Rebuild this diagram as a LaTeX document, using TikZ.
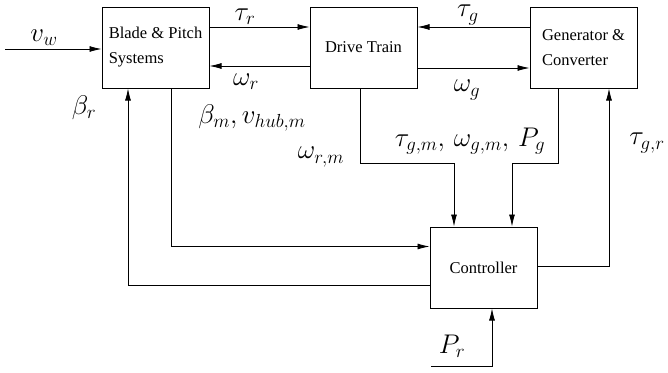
\RequirePackage{fix-cm}
\documentclass[tikz,border=0pt]{standalone}
\usepackage{amsmath}
\usepackage{fontspec}
\setmainfont{Liberation Serif}
\newfontfamily\blkfont{Liberation Serif}
\usetikzlibrary{arrows.meta}
\tikzset{
  blk/.style={draw,line width=1pt,minimum width=107pt,minimum height=81pt,inner sep=0pt,align=left,font=\blkfont\fontsize{16.5}{25}\selectfont},
  sig/.style={font=\fontsize{27}{30}\selectfont,inner sep=0pt},
  wire/.style={line width=0.8pt},
  arr/.style={wire,-{Latex[length=12pt,width=6pt]}}
}

\begin{document}
\begin{tikzpicture}[x=1pt,y=-1pt]
\useasboundingbox (0,0) rectangle (668,372);
% blocks
\node[blk] (blade) at (155.5,47.5) {Blade \& Pitch\\Systems};
\node[blk] (drive) at (363.5,47.5) {Drive Train};
\node[blk] (gen) at (583.5,47.5) {Generator \&\\Converter};
\node[blk] (ctrl) at (483.5,267.5) {Controller};
% external inputs
\coordinate (wind) at (5,49);
\coordinate (pref) at (431,366);
\draw[arr] (wind) -- (wind -| blade.west);
\draw[arr] (pref) -| ([xshift=8.5pt]ctrl.south);
% torques and speeds
\draw[arr] ([yshift=20.5pt]blade.east) -- ([yshift=20.5pt]drive.west);
\draw[arr] ([yshift=-18.5pt]drive.west) -- ([yshift=-18.5pt]blade.east);
\draw[arr] ([yshift=20.5pt]gen.west) -- ([yshift=20.5pt]drive.east);
\draw[arr] ([yshift=-20.5pt]drive.east) -- ([yshift=-20.5pt]gen.west);
% measurements to controller
\draw[arr] ([xshift=15.5pt]blade.south) |- ([yshift=21pt]ctrl.west);
\draw[arr] ([xshift=-3.5pt]drive.south) -- ++(0,75) -| ([xshift=-29.5pt]ctrl.north);
\draw[arr] ([xshift=-25.5pt]gen.south) -- ++(0,75) -| ([xshift=28.5pt]ctrl.north);
% references from controller
\draw[arr] ([yshift=-17.5pt]ctrl.west) -| ([xshift=-27.5pt]blade.south);
\draw[arr] ([yshift=1.5pt]ctrl.east) -| ([xshift=25.5pt]gen.south);
% signal labels
\node[sig] (lvw) at (44,38) {$v_w$};
\node[sig] (ltaur) at (245,17) {$\tau_r$};
\node[sig] (lomr) at (246,82) {$\omega_r$};
\node[sig] (ltaug) at (468,15) {$\tau_g$};
\node[sig] (lomg) at (467,90) {$\omega_g$};
\node[sig] (lbetar) at (84,108) {$\beta_r$};
\node[sig] (lbetam) at (252,118) {$\beta_m, v_{hub,m}$};
\node[sig] (lomrm) at (321,157) {$\omega_{r,m}$};
\node[sig] (lgen) at (470,141) {$\tau_{g,m},\,\omega_{g,m},\,P_g$};
\node[sig] (ltaugr) at (647,143) {$\tau_{g,r}$};
\node[sig] (lpr) at (452,346) {$P_r$};
\end{tikzpicture}
\end{document}
